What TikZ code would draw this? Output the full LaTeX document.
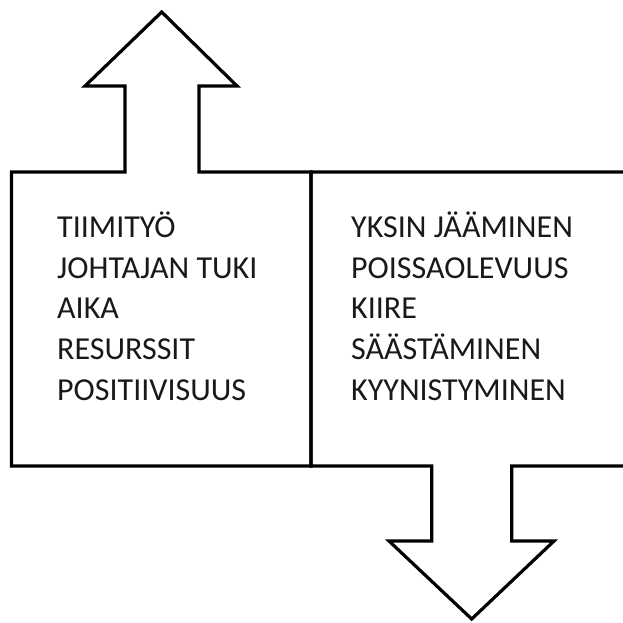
\documentclass[tikz,border=0pt]{standalone}
\usepackage{fontspec}
\setmainfont{Carlito}
\begin{document}
\begin{tikzpicture}[x=1pt,y=-1pt,
  outline/.style={draw=black,line width=3.2pt,line join=miter,miter limit=10},
  item/.style={anchor=base west,inner sep=0pt,font=\fontsize{32}{40}\selectfont,text=black!90}]
\useasboundingbox (0,0) rectangle (623,622);
\clip (0,0) rectangle (623,622);
% left box with the upward arrow on its top edge
\draw[outline] (11.5,172) -- (125,172) -- (125,86) -- (85,86) -- (161.7,12)
  -- (237,86) -- (199,86) -- (199,172) -- (311,172) -- (311,466) -- (11.5,466) -- cycle;
% right box, running off the right edge, with the downward arrow below
\draw[outline] (311,172) -- (660,172) -- (660,466) -- (511.7,466) -- (511.7,541)
  -- (554,541) -- (471.7,619) -- (389,541) -- (431.7,541) -- (431.7,466) -- (311,466) -- cycle;
% left column
\node[item] (l1) at (57,237.3) {TIIMITYÖ};
\node[item] (l2) at (57,278) {JOHTAJAN TUKI};
\node[item] (l3) at (57,318.8) {AIKA};
\node[item] (l4) at (57,359.5) {RESURSSIT};
\node[item] (l5) at (57,400.3) {POSITIIVISUUS};
% right column
\node[item] (r1) at (351,237.3) {YKSIN JÄÄMINEN};
\node[item] (r2) at (351,278) {POISSAOLEVUUS};
\node[item] (r3) at (351,318.8) {KIIRE};
\node[item] (r4) at (351,359.5) {SÄÄSTÄMINEN};
\node[item] (r5) at (351,400.3) {KYYNISTYMINEN};
\end{tikzpicture}
\end{document}
